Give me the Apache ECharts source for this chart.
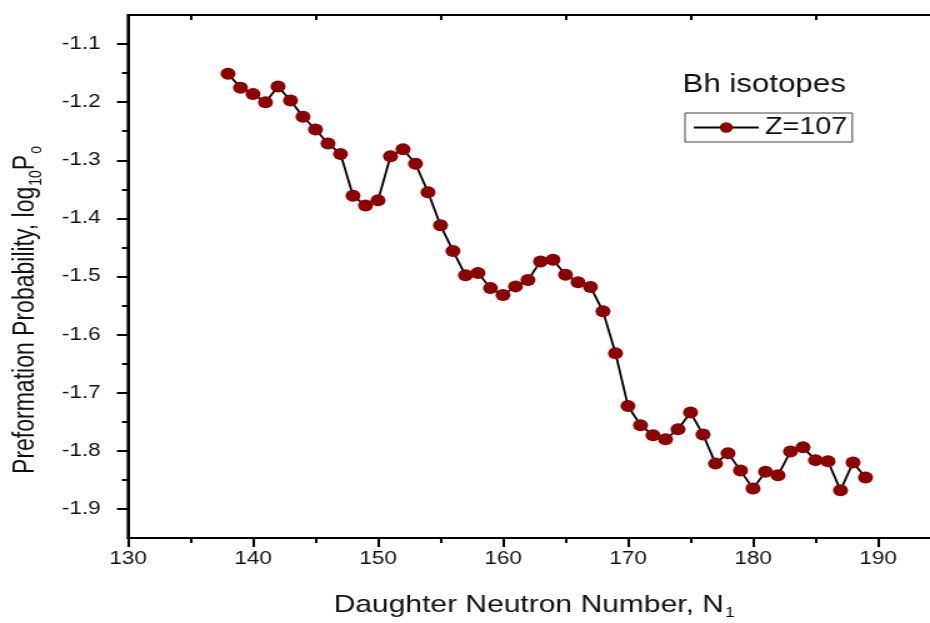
<!DOCTYPE html>
<html><head><meta charset="utf-8">
<script src="https://cdn.jsdelivr.net/npm/echarts@6/dist/echarts.min.js"></script>
<style>
html,body{margin:0;padding:0;background:#fff;overflow:hidden;width:930px;height:623px}
#chart{width:744px;height:623px;transform:scaleX(1.25);transform-origin:0 0;}
#overlay{position:absolute;left:0;top:0;width:930px;height:623px;pointer-events:none;}
</style>
</head><body><div id="chart"></div><div id="overlay"></div>
<script>
const neutronNumbers = [138,139,140,141,142,143,144,145,146,147,
  148,149,150,151,152,153,154,155,156,157,
  158,159,160,161,162,163,164,165,166,167,
  168,169,170,171,172,173,174,175,176,177,
  178,179,180,181,182,183,184,185,186,187,
  188,189];
const log10P0 = [-1.151,-1.175,-1.186,-1.200,-1.173,-1.197,-1.225,-1.247,-1.271,-1.289,
  -1.361,-1.378,-1.369,-1.293,-1.281,-1.306,-1.355,-1.412,-1.456,-1.498,
  -1.494,-1.520,-1.532,-1.517,-1.506,-1.474,-1.471,-1.497,-1.510,-1.518,
  -1.560,-1.632,-1.723,-1.756,-1.773,-1.780,-1.763,-1.734,-1.772,-1.822,
  -1.804,-1.834,-1.865,-1.836,-1.842,-1.801,-1.794,-1.816,-1.818,-1.868,
  -1.820,-1.846];
const xTickLabels = [130,140,150,160,170,180,190];
const seriesName = 'Z=107';
const legendTitle = 'Bh isotopes';
const xTitle = 'Daughter Neutron Number, N{sub|1}';
const yTitle = 'Preformation Probability, log{sub|10}P{sub|o}';

const X_MIN = 130, X_MAX = 195;
const Y_MIN = -1.95, Y_MAX = -1.05;
const Y_TICK_MIN = -1.9, Y_TICK_MAX = -1.1;
const X_TOP_MIN = 135, X_TOP_MAX = 185;

const FONT = 'Arial, "Liberation Sans", sans-serif';
const chart = echarts.init(document.getElementById('chart'), null, {renderer: 'canvas'});

// main plot box (chart px; the page is stretched 1.25x horizontally like the reference)
const G = {left: 102.4, top: 15, width: 650, height: 523};
const pxPerX = G.width / (X_MAX - X_MIN);
const pxPerY = G.height / (Y_MAX - Y_MIN);

const tickStyle = () => ({color: '#000', width: 2, opacity: 1});
const subRich = () => ({sub: {fontSize: 14, fontFamily: FONT, color: '#111', verticalAlign: 'bottom', lineHeight: 14, padding: [16, 0, 0, 1]}});

const option = {
  animation: false,
  backgroundColor: '#fff',
  grid: [
    Object.assign({show: true, borderColor: '#000', borderWidth: 2, backgroundColor: 'transparent', containLabel: false, outerBoundsMode: 'none'}, G),
    {left: G.left, width: G.width, top: G.top + (Y_MAX - Y_TICK_MAX) * pxPerY, height: (Y_TICK_MAX - Y_TICK_MIN) * pxPerY, containLabel: false, outerBoundsMode: 'none'},
    {left: G.left + (X_TOP_MIN - X_MIN) * pxPerX, width: (X_TOP_MAX - X_TOP_MIN) * pxPerX, top: G.top, height: G.height, containLabel: false, outerBoundsMode: 'none'}
  ],
  xAxis: [{
    gridIndex: 0, type: 'value', position: 'bottom', min: X_MIN, max: X_MAX, interval: 10,
    axisLine: {show: true, onZero: false, lineStyle: tickStyle()},
    axisTick: {show: true, inside: false, length: 9, lineStyle: tickStyle()},
    minorTick: {show: true, splitNumber: 2, length: 5, lineStyle: tickStyle()},
    axisLabel: {customValues: xTickLabels, fontSize: 18, fontFamily: FONT, color: '#111', margin: 12},
    splitLine: {show: false}, minorSplitLine: {show: false},
    name: xTitle, nameLocation: 'middle', nameGap: 52,
    nameTextStyle: {fontSize: 24, fontFamily: FONT, color: '#111', lineHeight: 30, rich: subRich()}
  }, {
    gridIndex: 1, type: 'value', min: X_MIN, max: X_MAX, show: false
  }, {
    gridIndex: 2, type: 'value', position: 'top', min: X_TOP_MIN, max: X_TOP_MAX, interval: 10,
    axisLine: {show: false, onZero: false},
    axisTick: {show: true, inside: true, length: 5, lineStyle: tickStyle()},
    axisLabel: {show: false}, splitLine: {show: false}
  }],
  yAxis: [{
    gridIndex: 0, type: 'value', position: 'left', min: Y_MIN, max: Y_MAX,
    axisLine: {show: true, onZero: false, lineStyle: tickStyle()},
    axisTick: {show: false}, axisLabel: {show: false}, splitLine: {show: false}
  }, {
    gridIndex: 1, type: 'value', position: 'left', min: Y_TICK_MIN, max: Y_TICK_MAX, interval: 0.1,
    axisLine: {show: false, onZero: false},
    axisTick: {show: true, inside: false, length: 8.8, lineStyle: tickStyle()},
    minorTick: {show: true, splitNumber: 2, length: 4.8, lineStyle: tickStyle()},
    axisLabel: {formatter: v => v.toFixed(1), fontSize: 18, fontFamily: FONT, color: '#111', margin: 22},
    splitLine: {show: false}, minorSplitLine: {show: false}
  }, {
    gridIndex: 2, type: 'value', min: Y_MIN, max: Y_MAX, show: false
  }],
  legend: {
    show: true, left: 548, top: 113, orient: 'horizontal',
    padding: [3, 4, 3, 6], borderColor: '#444', borderWidth: 1,
    itemWidth: 52, itemHeight: 13,
    textStyle: {fontSize: 23, fontFamily: FONT, color: '#111'},
    data: [seriesName]
  },
  graphic: [{
    type: 'text', left: 546, top: 73,
    style: {text: legendTitle, font: '25px ' + FONT, fill: '#111'}
  }, {
    type: 'text', x: 21, y: 310, rotation: Math.PI / 2,
    style: {text: yTitle, fontSize: 23, fontFamily: FONT, fill: '#111', align: 'center', verticalAlign: 'middle', lineHeight: 30, rich: subRich()}
  }],
  series: [{
    name: seriesName, type: 'line', xAxisIndex: 0, yAxisIndex: 0,
    data: neutronNumbers.map((n, i) => [n, log10P0[i]]),
    symbol: 'circle', symbolSize: 12,
    itemStyle: {color: '#8b0000'},
    lineStyle: {color: '#000', width: 1.8},
    z: 3
  }]
};
chart.setOption(option);
chart.getZr().storage.getDisplayList(true);
</script>
</body></html>
